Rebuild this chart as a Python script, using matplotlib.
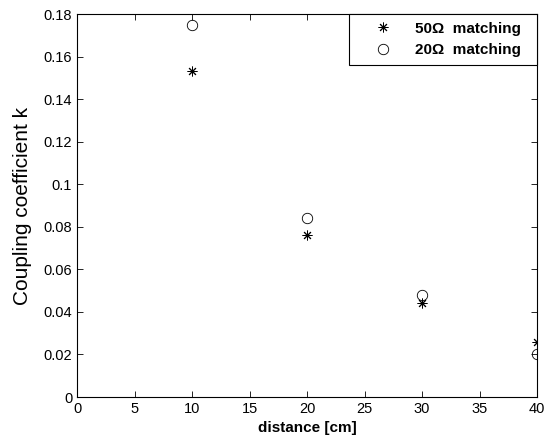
import matplotlib
matplotlib.use('Agg')
import matplotlib.pyplot as plt

plt.rcParams['font.family'] = ['Liberation Sans', 'DejaVu Sans']

# data
distance = [10, 20, 30, 40]
k_50ohm = [0.153, 0.076, 0.044, 0.026]
k_20ohm = [0.175, 0.084, 0.048, 0.020]

xticks = [0, 5, 10, 15, 20, 25, 30, 35, 40]
yticks = [0, 0.02, 0.04, 0.06, 0.08, 0.1, 0.12, 0.14, 0.16, 0.18]
ytick_labels = ['0', '0.02', '0.04', '0.06', '0.08', '0.1', '0.12', '0.14', '0.16', '0.18']

fig = plt.figure(figsize=(5.52, 4.38), dpi=100)
ax = fig.add_axes([0.1395, 0.0936, 0.8335, 0.8744])

# matlab style asterisk (8 spokes)
ax.plot(distance, k_50ohm, linestyle='none', marker=(8, 2, 0), color='black',
        markersize=7, markeredgewidth=0.7, label='50\u03a9  matching  ')
ax.plot(distance, k_20ohm, linestyle='none', marker='o', markerfacecolor='none',
        markeredgecolor='black', markersize=7.5, markeredgewidth=0.6, label='20\u03a9  matching  ')

ax.set_xlim(0, 40)
ax.set_ylim(0, 0.18)
ax.set_xticks(xticks)
ax.set_yticks(yticks)
ax.set_yticklabels(ytick_labels)
ax.tick_params(direction='in', top=True, right=True, length=4, labelsize=10.5, width=0.6)
for s in ax.spines.values():
    s.set_linewidth(0.8)

ax.set_xlabel('distance [cm]', fontsize=11, fontweight='bold')
ax.set_ylabel('Coupling coefficient k', fontsize=15, labelpad=8)

leg = ax.legend(loc='upper right', fancybox=False, edgecolor='black', framealpha=1,
                borderaxespad=0, handlelength=3.45, handletextpad=0.37,
                prop={'weight': 'bold', 'size': 11}, borderpad=0.5, labelspacing=0.5)
leg.get_frame().set_linewidth(0.8)

fig.savefig('out.png', dpi=100)
